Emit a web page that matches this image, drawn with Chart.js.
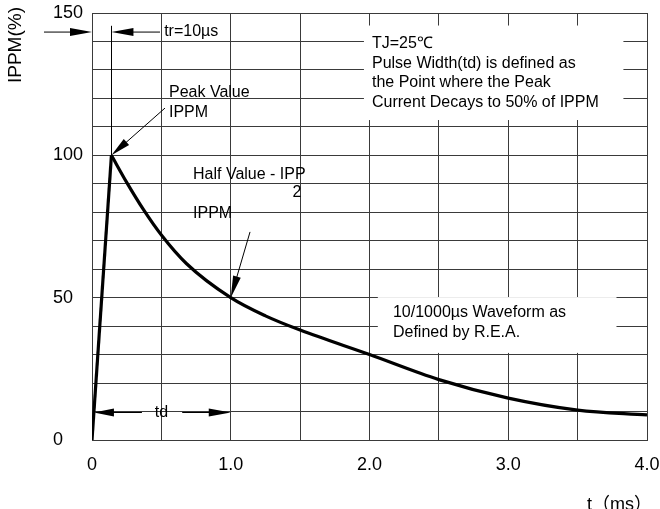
<!DOCTYPE html>
<html>
<head>
<meta charset="utf-8">
<script src="https://cdn.jsdelivr.net/npm/chart.js@4.4.1/dist/chart.umd.min.js"></script>
<style>
  html, body { margin: 0; padding: 0; background: #fff; }
  #wrap { width: 660px; height: 509px; position: relative; }
</style>
</head>
<body>
<div id="wrap"><canvas id="chart"></canvas></div>
<script>
// rise from 0 to the peak (tr), then the 10/1000us decay
const riseTime = [0, 0.14];
const riseValue = [0, 100];
const decayTime = [0.14, 0.25, 0.37, 0.5, 0.68, 1.0, 1.25, 1.5, 2.0, 2.5, 3.0, 3.5, 4.0];
const decayValue = [100, 90.5, 81, 72, 62, 50, 43.6, 38.6, 30, 21.2, 14.7, 10.5, 8.8];

const xTickLabels = { 0: '0', 1: '1.0', 2: '2.0', 3: '3.0', 4: '4.0' };
const yTickLabels = [0, 50, 100, 150];

const FONT = '"Liberation Sans", Arial, sans-serif';
Chart.defaults.font.family = FONT;
Chart.defaults.color = '#000';

const toPoints = (xs, ys) => xs.map((x, i) => ({ x: x, y: ys[i] }));

function arrow(ctx, x1, y1, x2, y2, len, half) {
    const a = Math.atan2(y2 - y1, x2 - x1);
    ctx.beginPath();
    ctx.moveTo(x1, y1);
    ctx.lineTo(x2 - Math.cos(a) * len * 0.8, y2 - Math.sin(a) * len * 0.8);
    ctx.stroke();
    ctx.beginPath();
    ctx.moveTo(x2, y2);
    ctx.lineTo(x2 - Math.cos(a) * len - Math.sin(a) * half, y2 - Math.sin(a) * len + Math.cos(a) * half);
    ctx.lineTo(x2 - Math.cos(a) * len + Math.sin(a) * half, y2 - Math.sin(a) * len - Math.cos(a) * half);
    ctx.closePath();
    ctx.fill();
}

const notesPlugin = {
    id: 'notes',
    beforeDatasetsDraw: (chart) => {
        const ctx = chart.ctx;
        const X = v => chart.scales.x.getPixelForValue(v);
        const Y = v => chart.scales.y.getPixelForValue(v);
        ctx.save();
        ctx.fillStyle = '#fff';
        // text boxes hide the grid
        ctx.fillRect(X(1.96), Y(145.6), X(3.83) - X(1.96), Y(112.4) - Y(145.6));
        ctx.fillRect(X(2.06), Y(50.2), X(3.78) - X(2.06), Y(30.6) - Y(50.2));
        ctx.restore();
    },
    afterDraw: (chart) => {
        const ctx = chart.ctx;
        const X = v => chart.scales.x.getPixelForValue(v);
        const Y = v => chart.scales.y.getPixelForValue(v);
        ctx.save();
        ctx.strokeStyle = '#000';
        ctx.fillStyle = '#000';
        ctx.lineWidth = 1;

        // tr marker
        const trY = Y(143.3);
        arrow(ctx, X(-0.346), trY, X(0), trY, 22, 4);
        arrow(ctx, X(0.49), trY, X(0.14), trY, 22, 4);
        ctx.beginPath();
        ctx.moveTo(Math.round(X(0.14)) + 0.5, Y(145.5));
        ctx.lineTo(Math.round(X(0.14)) + 0.5, Y(100));
        ctx.stroke();

        // peak and half value pointers
        arrow(ctx, X(0.526), Y(116.6), X(0.14), Y(100), 20, 4);
        arrow(ctx, X(1.139), Y(73.1), X(1.0), Y(50), 22, 4);

        // td span
        const tdY = Math.round(Y(10)) + 0.5;
        ctx.beginPath();
        ctx.moveTo(X(0.16), tdY); ctx.lineTo(X(0.36), tdY);
        ctx.moveTo(X(0.65), tdY); ctx.lineTo(X(0.86), tdY);
        ctx.stroke();
        arrow(ctx, X(0.2), tdY, X(0.014), tdY, 20, 4);
        arrow(ctx, X(0.8), tdY, X(1.0), tdY, 22, 4);

        ctx.font = '16px ' + FONT;
        ctx.textBaseline = 'middle';
        ctx.textAlign = 'left';
        ctx.fillText('tr=10µs', X(0.52), trY);
        ctx.fillText('Peak Value', X(0.555), Y(121.9));
        ctx.fillText('IPPM', X(0.555), Y(114.9));
        ctx.fillText('Half Value - IPP', X(0.728), Y(93.4));
        ctx.fillText('IPPM', X(0.728), Y(79.7));
        ctx.textAlign = 'center';
        ctx.fillText('2', X(1.477), Y(86.8));
        ctx.fillText('td', X(0.5), tdY);

        ctx.textAlign = 'left';
        const box1 = ['TJ=25℃', 'Pulse Width(td) is defined as', 'the Point where the Peak', 'Current Decays to 50% of IPPM'];
        const box1Y = [139.4, 132.4, 125.4, 118.7];
        box1.forEach((s, i) => ctx.fillText(s, X(2.018), Y(box1Y[i])));
        ctx.fillText('10/1000µs Waveform as', X(2.169), Y(44.6));
        ctx.fillText('Defined by R.E.A.', X(2.169), Y(37.9));

        // axis titles
        ctx.font = '19px ' + FONT;
        ctx.save();
        ctx.translate(16, 45);
        ctx.rotate(-Math.PI / 2);
        ctx.textAlign = 'center';
        ctx.fillText('IPPM(%)', 0, 0);
        ctx.restore();
        ctx.font = '18px "Liberation Sans", "Noto Sans CJK SC", sans-serif';
        ctx.textAlign = 'right';
        ctx.textBaseline = 'alphabetic';
        ctx.fillText('t（ms）', 652, 510);
        ctx.restore();
    }
};

const curveStyle = {
    borderColor: '#000',
    borderWidth: 3.2,
    pointRadius: 0,
    fill: false,
    showLine: true
};

new Chart(document.getElementById('chart'), {
    type: 'scatter',
    plugins: [notesPlugin],
    data: {
        datasets: [
            { ...curveStyle, label: 'rise', data: toPoints(riseTime, riseValue), tension: 0 },
            { ...curveStyle, label: 'decay', data: toPoints(decayTime, decayValue), cubicInterpolationMode: 'monotone' }
        ]
    },
    options: {
        responsive: true,
        maintainAspectRatio: false,
        animation: false,
        layout: { padding: { left: 53, top: 13, right: 13, bottom: 39 } },
        plugins: { legend: { display: false }, tooltip: { enabled: false } },
        scales: {
            x: {
                type: 'linear',
                min: 0,
                max: 4,
                afterFit: s => { s.height = 30; s.paddingLeft = 0; s.paddingRight = 0; },
                grid: { color: '#3a3a3a', lineWidth: 1, drawTicks: false },
                border: { color: '#3a3a3a' },
                ticks: {
                    stepSize: 0.5,
                    padding: 14,
                    maxRotation: 0,
                    autoSkip: false,
                    font: { size: 18 },
                    callback: v => xTickLabels[v] !== undefined ? xTickLabels[v] : ''
                }
            },
            y: {
                min: 0,
                max: 150,
                afterFit: s => { s.width = 39; s.paddingTop = 0; s.paddingBottom = 0; },
                grid: { color: '#3a3a3a', lineWidth: 1, drawTicks: false },
                border: { color: '#3a3a3a' },
                ticks: {
                    stepSize: 10,
                    padding: 5,
                    crossAlign: 'far',
                    autoSkip: false,
                    font: { size: 18 },
                    callback: v => yTickLabels.includes(v) ? String(v) : ''
                }
            }
        }
    }
});
</script>
</body>
</html>
